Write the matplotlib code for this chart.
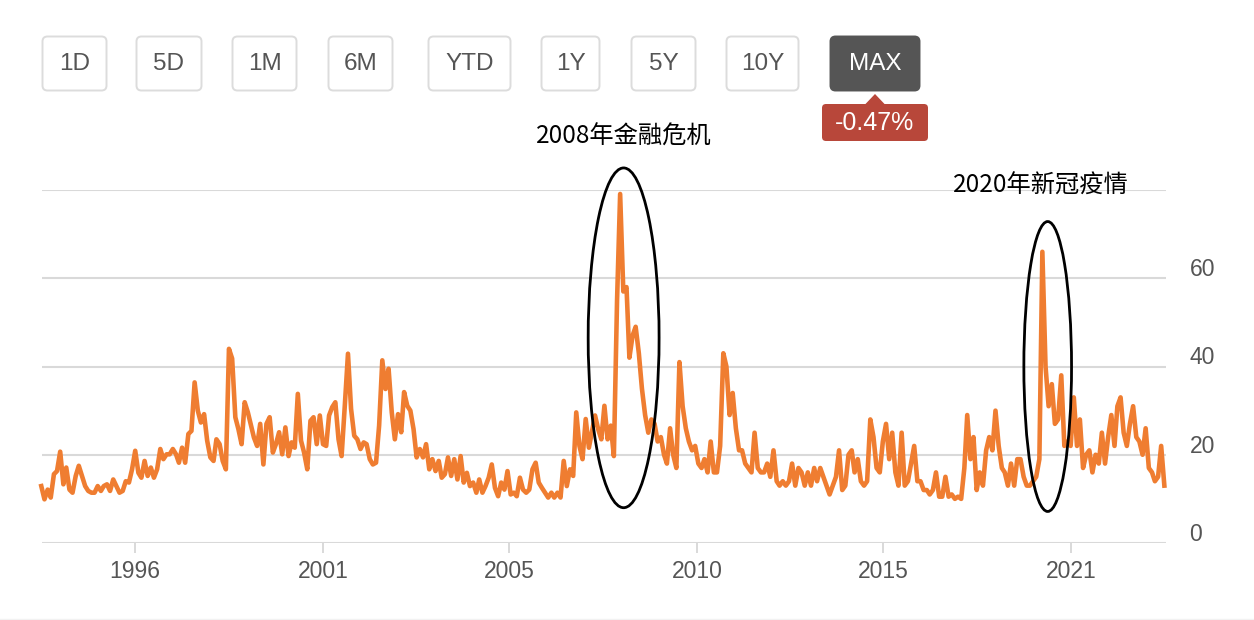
import numpy as np
import pandas as pd
import matplotlib
matplotlib.use('Agg')
import matplotlib.pyplot as plt
import matplotlib.dates as mdates
from matplotlib.patches import Ellipse, FancyBboxPatch, Polygon
from matplotlib.transforms import ScaledTranslation

# monthly VIX readings, Jul 1993 .. Jun 2023
vix_93_00 = [12.9, 9.9, 12.1, 10.3, 15.6, 16.3, 20.7, 13.3, 17.1, 12.1, 11.4, 15.2,
             17.5, 15.2, 12.9, 11.8, 11.4, 11.4, 12.9, 11.8, 12.9, 13.3, 11.8, 14.4,
             12.9, 11.4, 11.8, 14.0, 13.7, 16.7, 20.9, 15.9, 14.8, 18.6, 15.2, 17.1,
             14.8, 16.7, 21.3, 19.0, 20.1, 20.1, 21.3, 20.1, 18.2, 21.6, 18.2, 24.7,
             25.4, 36.4, 30.0, 27.3, 29.2, 23.2, 19.4, 18.6, 23.5, 22.4, 18.6, 16.7,
             44.0, 41.8, 28.5, 25.8, 22.4, 31.9, 29.6, 26.6, 23.9, 22.0, 27.0, 17.8,
             27.0, 28.5, 20.5, 22.4, 25.1, 20.1, 26.2, 19.7, 22.8, 21.6, 33.8, 23.2,
             20.5, 16.7, 27.7, 28.5, 22.4, 28.9]
vix_01_07 = [22.4, 22.0, 28.9, 30.8, 31.9, 23.5,
             19.7, 31.1, 42.9, 30.4, 24.3, 23.5, 21.3, 22.8, 22.4, 19.0, 17.8, 18.2,
             26.6, 41.4, 34.9, 39.5, 29.6, 23.5, 29.2, 25.1, 34.2, 31.1, 30.0, 25.8,
             19.4, 21.3, 19.4, 22.4, 16.7, 19.0, 16.3, 18.6, 14.8, 15.6, 19.4, 15.2,
             19.0, 14.4, 19.7, 13.7, 15.9, 12.9, 13.7, 11.4, 14.4, 11.4, 12.9, 14.8,
             17.8, 12.5, 10.6, 13.7, 12.1, 16.3, 11.0, 11.4, 10.6, 14.8, 12.1, 11.4,
             12.1, 16.7, 18.2, 13.7, 12.5, 11.4, 10.3, 11.4, 10.3, 11.4, 10.3, 18.6,
             12.9, 16.7, 15.2, 29.6, 22.0, 19.0]
vix_08_14 = [28.1, 21.6, 25.1, 28.9, 25.8, 23.5, 31.1, 23.5, 26.6, 19.7, 55.0, 79.1,
             57.0, 58.0, 42.0, 47.0, 49.0, 43.0, 35.0, 29.0, 25.0, 28.0, 27.0, 23.0,
             24.0, 20.0, 18.0, 26.0, 20.0, 17.0, 41.0, 31.0, 26.0, 23.0, 21.0, 22.0,
             18.0, 17.0, 19.0, 16.0, 23.0, 16.0, 16.0, 22.0, 43.0, 40.0, 29.0, 34.0,
             26.0, 21.0, 21.0, 18.0, 17.0, 16.0, 25.0, 17.0, 16.0, 16.0, 18.0, 15.0,
             21.0, 14.0, 13.0, 14.0, 13.0, 14.0, 18.0, 13.0, 17.0, 16.0, 13.0, 16.0,
             13.0, 17.0, 14.0, 17.0, 15.0, 13.0, 11.0, 13.0, 15.0, 21.0, 12.0, 13.0]
vix_15_23 = [20.0, 21.0, 16.0, 19.0, 14.0, 13.0, 14.0, 28.0, 24.0, 17.0, 16.0, 23.0,
             27.0, 19.0, 25.0, 16.0, 13.0, 25.0, 13.0, 14.0, 18.0, 22.0, 14.0, 14.0,
             12.0, 12.0, 11.0, 12.0, 16.0, 10.5, 10.5, 15.0, 10.5, 11.0, 10.0, 10.5,
             10.0, 17.0, 29.0, 19.0, 24.0, 12.0, 16.0, 13.0, 21.0, 24.0, 21.0, 30.0,
             22.0, 17.0, 16.0, 13.0, 18.0, 13.0, 19.0, 19.0, 15.0, 13.0, 13.0, 14.0,
             15.0, 19.0, 66.0, 40.0, 31.0, 36.0, 27.0, 28.0, 38.0, 22.0, 23.0, 22.0,
             33.0, 22.0, 28.0, 17.0, 20.0, 21.0, 16.0, 20.0, 18.0, 25.0, 18.0, 24.0,
             29.0, 22.0, 31.0, 33.0, 25.0, 22.0, 27.0, 31.0, 24.0, 23.0, 20.0, 26.0,
             17.0, 16.0, 14.0, 15.0, 22.0, 13.0]

range_labels = ['1D', '5D', '1M', '6M', 'YTD', '1Y', '5Y', '10Y', 'MAX']
change_label = '-0.47%'
tick_dates = ['1996-01-01', '2001-01-02', '2005-12-16', '2010-12-20', '2015-12-02', '2020-12-06']
tick_labels = ['1996', '2001', '2005', '2010', '2015', '2021']
y_ticks = [0, 20, 40, 60, 80]
y_labels = ['0', '20', '40', '60', '']
notes = ['2008年金融危机', '2020年新冠疫情']

vix = np.array(vix_93_00 + vix_01_07 + vix_08_14 + vix_15_23)
dates = pd.date_range('1993-07-01', periods=len(vix), freq='MS')

W, H = 1254, 620
fig = plt.figure(figsize=(W / 100, H / 100), dpi=100)
latin = 'Liberation Sans'
cjk = ['Noto Sans CJK SC', 'DejaVu Sans']
grey_txt = '#555555'

# top strip with range buttons (pixel coords)
ui = fig.add_axes([0, 0, 1, 1])
ui.set_xlim(0, W)
ui.set_ylim(H, 0)
ui.axis('off')
btn_left = [42, 136, 232, 328, 428, 541, 631, 726, 830]
btn_right = [107, 202, 297, 393, 511, 600, 696, 799, 920]
for lab, l, r in zip(range_labels, btn_left, btn_right):
    on = lab == 'MAX'
    ui.add_patch(FancyBboxPatch((l + 0.5, 36.5), r - l - 1, 54,
                                boxstyle='round,pad=0,rounding_size=5',
                                fc='#555555' if on else 'white',
                                ec='#555555' if on else '#dcdcdc', lw=1.4))
    ui.text((l + r) / 2, 64, lab, ha='center', va='center', fontsize=17.5,
            family=latin, color='white' if on else grey_txt)

# red change badge under MAX
red = '#b8473a'
ui.add_patch(FancyBboxPatch((822, 104), 106, 37, boxstyle='round,pad=0,rounding_size=4',
                            fc=red, ec='none'))
ui.add_patch(Polygon([(865, 104.5), (875, 94), (885, 104.5)], closed=True, fc=red, ec='none'))
ui.text(875, 123, change_label, ha='center', va='center', fontsize=18,
        family=latin, color='white')
ui.plot([0, W], [618.5, 618.5], color='#f2f2f2', lw=1)

# chart
ax = fig.add_axes([42 / W, 1 - 543 / H, 1124 / W, 353 / H])
ax.patch.set_alpha(0)
ax.plot(dates, vix, color='#ef7d31', lw=3.3, solid_joinstyle='round', clip_on=False, zorder=3)
ax.set_xlim(pd.Timestamp('1993-07-08'), pd.Timestamp('2023-06-17'))
ax.set_ylim(0, 80)

ax.set_yticks(y_ticks)
ax.set_yticklabels(y_labels)
ax.yaxis.tick_right()
ax.tick_params(axis='y', length=0, pad=17, labelsize=16.5, labelcolor=grey_txt)
for t in ax.get_yticklabels():
    t.set_fontfamily(latin)
    t.set_transform(t.get_transform() + ScaledTranslation(0, 11 / 100, fig.dpi_scale_trans))
ax.grid(axis='y', color='#d9d9d9', lw=1.5)
ax.set_axisbelow(True)
for s in ax.spines.values():
    s.set_visible(False)

ax.set_xticks(pd.to_datetime(tick_dates))
ax.set_xticklabels(tick_labels)
ax.tick_params(axis='x', length=7, width=1.4, color='#d9d9d9', pad=5,
               labelsize=16.5, labelcolor=grey_txt)
for t in ax.get_xticklabels():
    t.set_fontfamily(latin)

# crisis highlights
d = mdates.date2num
ax.add_patch(Ellipse((d(pd.Timestamp('2009-01-04')), 46.5), width=690, height=77,
                     fill=False, ec='black', lw=2, clip_on=False, zorder=4))
ax.add_patch(Ellipse((d(pd.Timestamp('2020-04-22')), 40), width=464, height=65.7,
                     fill=False, ec='black', lw=2, clip_on=False, zorder=4))
ax.text(d(pd.Timestamp('2009-01-01')), 92, notes[0], ha='center', va='center',
        fontsize=17.5, family=cjk, color='black', clip_on=False)
ax.text(d(pd.Timestamp('2020-02-15')), 81, notes[1], ha='center', va='center',
        fontsize=17.5, family=cjk, color='black', clip_on=False)

fig.savefig('out.png', dpi=100)
